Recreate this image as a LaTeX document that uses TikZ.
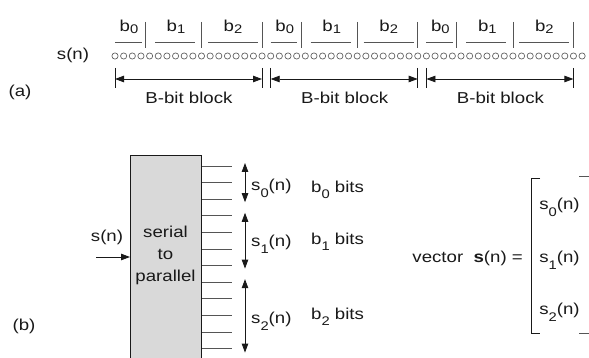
\documentclass[tikz,border=0pt]{standalone}
\usepackage{fontspec}
\setmainfont{Liberation Sans}[FakeStretch=1.18]
\usepackage{tikz}
\usepackage{xcolor}
\usetikzlibrary{arrows.meta,positioning}
\definecolor{ink}{RGB}{25,25,25}
\definecolor{boxgray}{RGB}{217,217,217}
\definecolor{dotline}{RGB}{100,100,100}
\definecolor{rulegray}{RGB}{85,85,85}
\newcommand{\lo}[2][-1.5pt]{\raisebox{#1}{\fontsize{12.5}{13}\selectfont #2}}

\begin{document}
\begin{tikzpicture}[x=1pt, y=-1pt, font=\fontsize{15.8}{22}\selectfont, text=ink,
        dot/.style={circle, draw=dotline, fill=white, line width=0.7pt, inner sep=0pt, minimum size=6.2pt},
        wire/.style={draw=ink, line width=0.8pt},
        both/.style={wire, {Triangle[length=9pt,width=6.5pt]}-{Triangle[length=9pt,width=6.5pt]}},
        into/.style={wire, -{Triangle[length=9pt,width=6.5pt]}}]
    \useasboundingbox (0,0) rectangle (589,358);

    % (a) serial stream of bits cut into blocks
    \node[anchor=base] (taga) at (20,97) {(a)};
    \node[anchor=base] (sa) at (73,60) {s(n)};
    \foreach \i in {0,...,54}
        \node[dot] (d\i) at ({115+8.65*\i},56) {};

    \foreach \k in {0,1,2} {
        \pgfmathsetmacro{\xo}{115+155.7*\k}
        \draw[wire] (\xo,68) -- (\xo,88);
        \draw[wire] (\xo+147,68) -- (\xo+147,88);
        \coordinate (blkL\k) at (\xo,79);
        \coordinate (blkR\k) at (\xo+147,79);
        \draw[both] (blkL\k) -- (blkR\k);
        \node[anchor=base] (blk\k) at (\xo+74,104) {B-bit block};
        % fields b0, b1, b2 of one block
        \draw[wire, draw=rulegray] (\xo+30.3,22) -- (\xo+30.3,48);
        \draw[wire, draw=rulegray] (\xo+86.5,22) -- (\xo+86.5,48);
        \draw[wire, draw=rulegray] (\xo+147,22) -- (\xo+147,48);
        \draw[wire, draw=rulegray] (\xo,42) -- (\xo+26.5,42);
        \draw[wire, draw=rulegray] (\xo+40,42) -- (\xo+80,42);
        \draw[wire, draw=rulegray] (\xo+93,42) -- (\xo+143,42);
        \node[anchor=base] (fa\k) at (\xo+14,32) {b\lo{0}};
        \node[anchor=base] (fb\k) at (\xo+61,32) {b\lo{1}};
        \node[anchor=base] (fc\k) at (\xo+118,32) {b\lo{2}};
    }

    % (b) serial to parallel converter
    \node[anchor=base] (tagb) at (24,330) {(b)};
    \node[draw=ink, fill=boxgray, line width=1.3pt, minimum width=71pt, minimum height=220pt,
          inner sep=0pt, anchor=north west] (s2p) at (130,155) {};
    \node[align=center] (s2ptxt) at (165.5,255) {serial\\to\\parallel};
    \coordinate (sin) at (96,257);
    \draw[into] (sin) -- (sin -| s2p.west);
    \node[anchor=base] (sinlbl) at (107,241) {s(n)};

    \foreach \i in {1,...,12} {
        \coordinate (o\i) at (232,{166+16.6*(\i-1)});
        \draw[wire, draw=rulegray] (o\i -| s2p.east) -- (o\i);
    }
    \draw[both] ([shift={(13pt,3pt)}]o1) -- ([shift={(13pt,-3pt)}]o3);
    \draw[both] ([shift={(13pt,3pt)}]o4) -- ([shift={(13pt,-3pt)}]o7);
    \draw[both] ([shift={(13pt,3pt)}]o8) -- ([shift={(13pt,-4pt)}]o12);

    \node[anchor=base west, inner sep=0pt] (s0) at (251,191) {s\lo[-7pt]{0}(n)};
    \node[anchor=base west, inner sep=0pt] (s1) at (251,247) {s\lo[-7pt]{1}(n)};
    \node[anchor=base west, inner sep=0pt] (s2) at (251,323) {s\lo[-7pt]{2}(n)};
    \node[anchor=base west, inner sep=0pt] (nb0) at (311,193) {b\lo[-6pt]{0} bits};
    \node[anchor=base west, inner sep=0pt] (nb1) at (311,244) {b\lo[-6pt]{1} bits};
    \node[anchor=base west, inner sep=0pt] (nb2) at (311,319) {b\lo[-6pt]{2} bits};

    % the vector s(n)
    \node[anchor=base east, inner sep=0pt] (vec) at (523,262) {vector \ \textbf{s}(n) =};
    \node[anchor=base, inner sep=0pt] (v0) at (559.5,210) {s\lo[-7pt]{0}(n)};
    \node[anchor=base, inner sep=0pt] (v1) at (559.5,262) {s\lo[-7pt]{1}(n)};
    \node[anchor=base, inner sep=0pt] (v2) at (559.5,314) {s\lo[-7pt]{2}(n)};
    \draw[wire] (540,178) -- (531,178) -- (531,333) -- (540,333);
    \draw[wire, draw=rulegray] (579,176) -- (589,176);
    \draw[wire, draw=rulegray] (579,333) -- (589,333);
\end{tikzpicture}
\end{document}
